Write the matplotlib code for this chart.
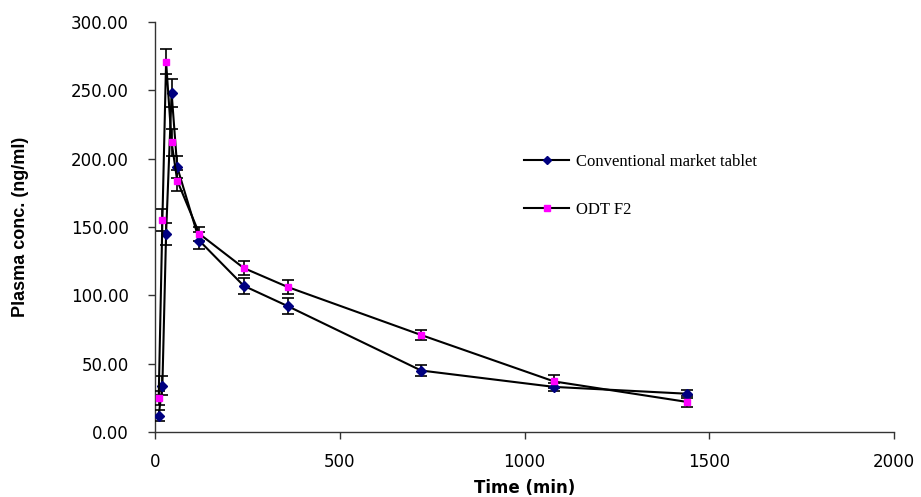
import matplotlib
matplotlib.use("Agg")
import matplotlib.pyplot as plt
from matplotlib.lines import Line2D

time_min = [10, 20, 30, 45, 60, 120, 240, 360, 720, 1080, 1440]
conv_mean = [12, 34, 145, 248, 194, 140, 107, 92, 45, 33, 28]
conv_err = [4, 7, 8, 10, 8, 6, 6, 6, 4, 3, 3]
odt_mean = [25, 155, 271, 212, 184, 145, 120, 106, 71, 37, 22]
odt_err = [5, 8, 9, 10, 8, 5, 5, 5, 4, 5, 4]

x_ticks = [0, 500, 1000, 1500, 2000]
y_ticks = [0, 50, 100, 150, 200, 250, 300]
series_labels = ["Conventional market tablet", "ODT F2"]

fig = plt.figure(figsize=(9.21, 4.97), dpi=100)
ax = fig.add_axes([155/921, 65/497, (894-155)/921, (432-22)/497])

ax.errorbar(time_min, conv_mean, yerr=conv_err, color="black", lw=1.5,
            marker="D", markersize=5, markerfacecolor="#000080",
            markeredgecolor="#000080", ecolor="black", elinewidth=1.2,
            capsize=4, capthick=1.2, zorder=3)
ax.errorbar(time_min, odt_mean, yerr=odt_err, color="black", lw=1.5,
            marker="s", markersize=5, markerfacecolor="#FF00FF",
            markeredgecolor="#FF00FF", ecolor="black", elinewidth=1.2,
            capsize=4, capthick=1.2, zorder=3)

ax.set_xlim(0, 2000)
ax.set_ylim(0, 300)
ax.set_xticks(x_ticks)
ax.set_yticks(y_ticks)
ax.set_yticklabels([f"{v:.2f}" for v in y_ticks])
ax.spines["top"].set_visible(False)
ax.spines["right"].set_visible(False)
for s in ("left", "bottom"):
    ax.spines[s].set_linewidth(1.0)
    ax.spines[s].set_color("#333333")
ax.tick_params(direction="out", length=5, width=1, colors="#333333",
               labelcolor="black", labelsize=12)
ax.tick_params(axis="y", pad=14)
ax.tick_params(axis="x", pad=10)
for lab in ax.get_xticklabels() + ax.get_yticklabels():
    lab.set_fontfamily("DejaVu Sans")

ax.set_xlabel("Time (min)", fontsize=12, fontweight="bold",
              fontfamily="DejaVu Sans", labelpad=6)
ax.set_ylabel("Plasma conc. (ng/ml)", fontsize=13, fontweight="bold",
              fontfamily="Liberation Sans", labelpad=30)

handles = [
    Line2D([0], [0], color="black", lw=1.5, marker="D", markersize=4,
           markerfacecolor="#000080", markeredgecolor="#000080"),
    Line2D([0], [0], color="black", lw=1.5, marker="s", markersize=5,
           markerfacecolor="#FF00FF", markeredgecolor="#FF00FF"),
]
leg = fig.legend(handles, series_labels, loc="upper left",
                 bbox_to_anchor=(509/921, 1 - 139/497),
                 frameon=False, handlelength=2.7, handletextpad=0.4,
                 labelspacing=1.9, prop={"family": "Liberation Serif", "size": 12})

fig.savefig("out.png", dpi=100)
